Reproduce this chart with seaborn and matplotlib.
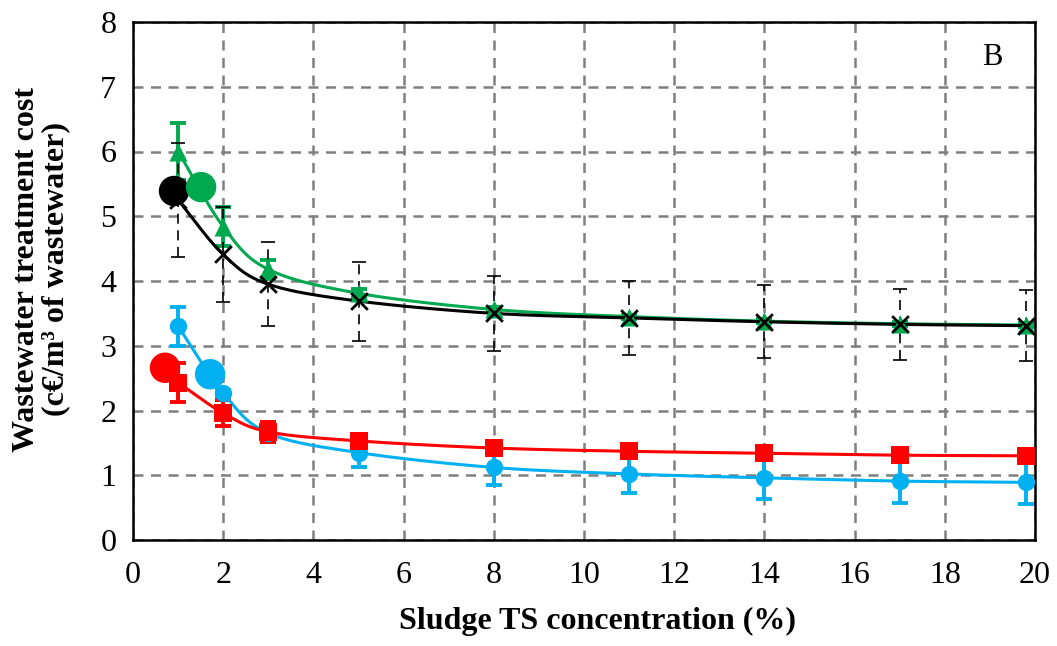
import numpy as np
import matplotlib
matplotlib.use("Agg")
import matplotlib.pyplot as plt
import seaborn as sns

# --- data ---
ts = [1, 2, 3, 5, 8, 11, 14, 17, 19.8]

black_y = [5.25, 4.41, 3.95, 3.69, 3.50, 3.43, 3.37, 3.33, 3.31]
black_err = [0.88, 0.73, 0.65, 0.61, 0.58, 0.57, 0.565, 0.55, 0.55]

green_y = [6.00, 4.84, 4.18, 3.81, 3.56, 3.45, 3.38, 3.34, 3.32]
green_err = [0.44, 0.30, 0.15, 0.07, 0.04, 0.03, 0.03, 0.03, 0.03]

cyan_y = [3.30, 2.27, 1.65, 1.35, 1.12, 1.02, 0.96, 0.91, 0.89]
cyan_err = [0.30, 0.05, 0.12, 0.23, 0.27, 0.30, 0.33, 0.34, 0.34]

red_y = [2.43, 1.96, 1.67, 1.53, 1.42, 1.37, 1.34, 1.31, 1.30]
red_err = [0.30, 0.20, 0.15, 0.10, 0.09, 0.07, 0.07, 0.06, 0.06]

# single large markers
big_x = [0.91, 1.51, 1.71, 0.71]
big_y = [5.39, 5.45, 2.56, 2.66]
big_col = ["black", "#00A84F", "#00B0F0", "#FF0000"]

GREEN = "#00A84F"
CYAN = "#00B0F0"
RED = "#FF0000"


def smooth(x, y, n=30):
    # Catmull-Rom style smoothing, like Excel "smoothed line"
    x = np.asarray(x, float)
    y = np.asarray(y, float)
    px = np.concatenate([[2 * x[0] - x[1]], x, [2 * x[-1] - x[-2]]])
    py = np.concatenate([[2 * y[0] - y[1]], y, [2 * y[-1] - y[-2]]])
    xs, ys = [], []
    for i in range(1, len(px) - 2):
        t = np.linspace(0, 1, n)
        for p, out in ((px, xs), (py, ys)):
            p0, p1, p2, p3 = p[i - 1], p[i], p[i + 1], p[i + 2]
            m1 = (p2 - p0) / 6.0
            m2 = (p3 - p1) / 6.0
            b = ((1 - t) ** 3 * p1 + 3 * (1 - t) ** 2 * t * (p1 + m1)
                 + 3 * (1 - t) * t ** 2 * (p2 - m2) + t ** 3 * p2)
            out.extend(b)
    return np.array(xs), np.array(ys)


sns.set_style("white")
plt.rcParams["font.family"] = ["Liberation Serif", "DejaVu Serif"]
plt.rcParams["text.color"] = "black"
plt.rcParams["axes.labelcolor"] = "black"

fig = plt.figure(figsize=(10.57, 6.46), dpi=100)
ax = fig.add_axes([133 / 1057, 1 - 540 / 646, 902 / 1057, 518 / 646])

ax.grid(True, color="#7f7f7f", linestyle=(0, (4, 3)), linewidth=1.8)
ax.set_axisbelow(True)

series = [
    (green_y, green_err, GREEN, "^", 13, "-", 2.8),
    (cyan_y, cyan_err, CYAN, "o", 12.5, "-", 2.8),
    (red_y, red_err, RED, "s", 13, "-", 2.8),
    (black_y, black_err, "black", "x", 12, "--", 1.2),
]

for y, e, c, m, ms, els, elw in series:
    sx, sy = smooth(ts, y)
    ax.plot(sx, sy, color=c, lw=2.2, zorder=3)
    eb = ax.errorbar(ts, y, yerr=e, fmt="none", ecolor=c, elinewidth=elw,
                     capsize=6 if c != "black" else 5, capthick=elw, zorder=2)
    if els == "--":
        eb[2][0].set_linestyle((0, (6, 4)))
    if m == "x":
        sns.scatterplot(x=ts, y=y, marker="x", s=ms ** 2, color=c, linewidth=2,
                        ax=ax, zorder=5, legend=False)
    else:
        sns.scatterplot(x=ts, y=y, marker=m, s=ms ** 2, color=c,
                        edgecolor=c, linewidth=0, ax=ax, zorder=4, legend=False)

sns.scatterplot(x=big_x, y=big_y, hue=big_col, palette={k: k for k in big_col},
                s=480, linewidth=0, ax=ax, zorder=6, legend=False)

ax.set_xlim(0, 20)
ax.set_ylim(0, 8)
ax.set_xticks(range(0, 21, 2))
ax.set_yticks(range(0, 9))
ax.tick_params(axis="both", direction="out", length=6, width=1.5,
               labelsize=23, colors="black", pad=6)
ax.tick_params(axis="x", pad=9)
for s in ax.spines.values():
    s.set_color("black")
    s.set_linewidth(1.8)

ax.set_xlabel("Sludge TS concentration (%)", fontsize=23, fontweight="bold",
              labelpad=12)
ax.set_ylabel("Wastewater treatment cost\n(c€/m³ of wastewater)", fontsize=23,
              fontweight="bold", labelpad=22, linespacing=1.0)
ax.xaxis.label.set_x(0.515)
ax.yaxis.label.set_y(0.523)
ax.text(19.05, 7.45, "B", fontsize=22, ha="center", va="center")

fig.savefig("out.png", dpi=100)
